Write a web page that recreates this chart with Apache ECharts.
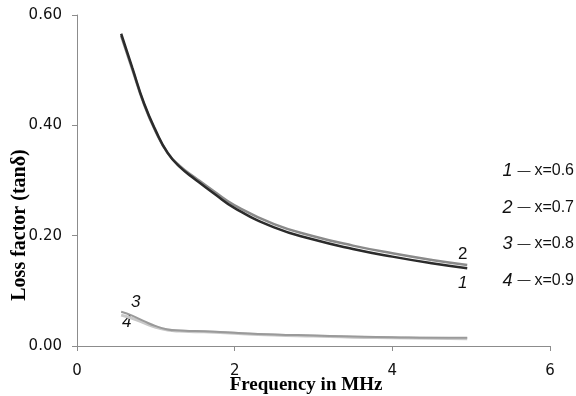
<!DOCTYPE html>
<html><head><meta charset="utf-8">
<script src="https://cdn.jsdelivr.net/npm/echarts@6/dist/echarts.min.js"></script>
<style>html,body{margin:0;padding:0;background:#fff}#c{width:576px;height:396px}</style>
</head><body><div id="c"></div>
<script>
const freq = [0.56,0.7,0.85,1.0,1.15,1.3,1.5,1.75,2.0,2.5,3.0,3.5,4.0,4.5,4.95];
const s1 = [0.566,0.505,0.44,0.39,0.35,0.325,0.302,0.275,0.25,0.215,0.193,0.176,0.162,0.150,0.141];
const s2 = [0.562,0.502,0.438,0.388,0.35,0.327,0.305,0.279,0.255,0.221,0.199,0.182,0.168,0.156,0.147];
const s3 = [0.062,0.055,0.045,0.036,0.030,0.028,0.027,0.026,0.024,0.021,0.019,0.017,0.016,0.015,0.015];
const s4 = [0.056,0.050,0.042,0.034,0.029,0.027,0.026,0.025,0.023,0.020,0.018,0.016,0.015,0.014,0.013];
const legendItems = [['1','x=0.6'],['2','x=0.7'],['3','x=0.8'],['4','x=0.9']];
const xTitle = 'Frequency in MHz';
const yTitle = 'Loss factor (tanδ)';

const pair = a => freq.map((f,i)=>[f,a[i]]);
const chart = echarts.init(document.getElementById('c'));
const axisCol = '#8c8c8c';
const mk = (name,data,color,w,z) => ({name,type:'line',data:pair(data),smooth:true,showSymbol:false,
  lineStyle:{color,width:w},z,animation:false});
chart.setOption({
  animation:false,
  grid:{left:77,right:26,top:15,bottom:50},
  xAxis:{type:'value',min:0,max:6,interval:2,
    axisLine:{lineStyle:{color:axisCol}},axisTick:{show:true,length:5,lineStyle:{color:axisCol}},
    splitLine:{show:false},
    axisLabel:{color:'#111',fontFamily:'DejaVu Sans',fontSize:15,margin:18}},
  yAxis:{type:'value',min:0,max:0.6,interval:0.2,
    axisLine:{show:true,lineStyle:{color:axisCol}},axisTick:{show:true,length:5,lineStyle:{color:axisCol}},
    splitLine:{show:false},
    axisLabel:{color:'#111',fontFamily:'DejaVu Sans',fontSize:15,margin:15,formatter:v=>v.toFixed(2)}},
  series:[
    mk('4',s4,'#c8c8c8',3,2),
    mk('3',s3,'#9a9a9a',2,3),
    mk('2',s2,'#8a8a8a',2.5,4),
    mk('1',s1,'#2b2b2b',2.5,5)
  ],
  graphic:[
    {type:'text',x:306,y:385,style:{text:xTitle,font:'bold 19px "Liberation Serif"',fill:'#000',align:'center',verticalAlign:'middle'}},
    {type:'text',x:20,y:225,rotation:Math.PI/2,style:{text:yTitle,font:'bold 20px "Liberation Serif"',fill:'#000',align:'center',verticalAlign:'middle'}},
    {type:'text',left:458,top:246,style:{text:'2',font:'17px "Liberation Sans"',fill:'#111'}},
    {type:'text',left:458,top:275,style:{text:'1',font:'italic 17px "Liberation Sans"',fill:'#111'}},
    {type:'text',left:131,top:294,style:{text:'3',font:'italic 17px "Liberation Sans"',fill:'#111'}},
    {type:'text',left:122,top:314,style:{text:'4',font:'italic 17px "Liberation Sans"',fill:'#111'}},
  ].concat(legendItems.map((it,i)=>({type:'text',right:2,top:162+i*36.5,
    style:{text:'{n|'+it[0]+'}{d|—}{t|'+it[1]+'}',
      rich:{n:{fontStyle:'italic',fontSize:18,fontFamily:'Liberation Sans',fill:'#111'},
            d:{fontSize:13,fontFamily:'Liberation Sans',fill:'#111',padding:[0,4,0,5]},
            t:{fontSize:16,fontFamily:'Liberation Sans',fill:'#111'}}}})))
});
</script></body></html>
